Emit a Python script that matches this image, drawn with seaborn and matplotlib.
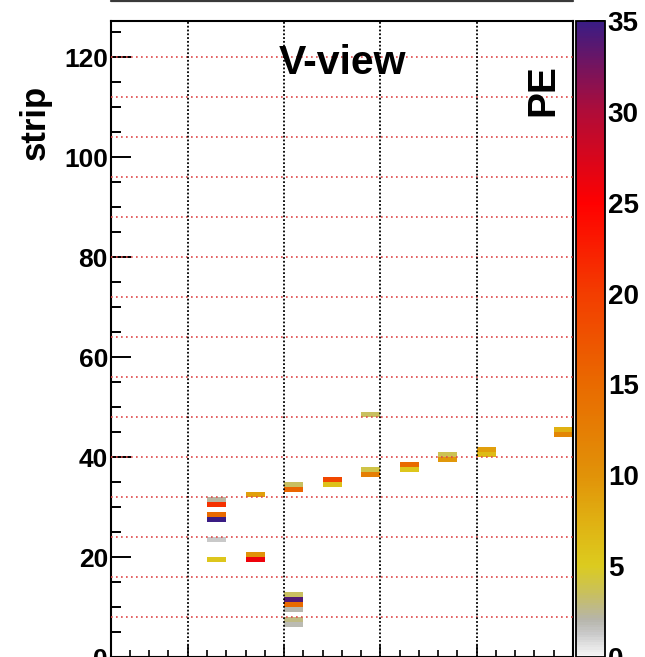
import numpy as np
import pandas as pd
import matplotlib
matplotlib.use("Agg")
import matplotlib.pyplot as plt
import seaborn as sns
from matplotlib.colors import LinearSegmentedColormap
from matplotlib.ticker import MultipleLocator, FixedLocator, NullFormatter
from matplotlib.lines import Line2D

# ---- hits in the V view: plane, strip, charge (PE) ----
hit_plane = [41, 41, 41, 41, 41, 41,
             43, 43, 43,
             45, 45, 45, 45, 45, 45, 45, 45,
             47, 47,
             49, 49, 49,
             51, 51,
             53, 53,
             55, 55,
             59, 59]
hit_strip = [31, 30, 28, 27, 23, 19,
             32, 20, 19,
             34, 33, 12, 11, 10, 9, 7, 6,
             35, 34,
             48, 37, 36,
             38, 37,
             40, 39,
             41, 40,
             45, 44]
hit_pe = [2.3, 21, 15, 35, 1.3, 5.5,
          9, 10, 26,
          3.5, 15.5, 3.5, 34, 15, 2, 2.8, 1.8,
          19, 6,
          3.5, 4, 12.5,
          15, 5.5,
          3.8, 9.5,
          9, 6.5,
          7.5, 11.5]

plane_first, plane_last = 36, 60
plane_major = [40, 45, 50, 55]
n_strips = 128
strip_top = 127.3
strip_major = [0, 20, 40, 60, 80, 100, 120]
module_lines = list(range(8, 121, 8))
pe_ticks = [0, 5, 10, 15, 20, 25, 30, 35]
pe_max = 35
title = "V-view"

# ---- style ----
sns.set_theme(style="white")
plt.rcParams["font.family"] = ["Liberation Sans", "DejaVu Sans"]
plt.rcParams["font.weight"] = "bold"
for key in ("text.color", "axes.labelcolor", "xtick.color", "ytick.color",
            "axes.edgecolor"):
    plt.rcParams[key] = "black"

palette_stops = [(0.0, "#f6f6f6"), (0.6, "#e2e2e2"), (1.2, "#cacaca"),
                 (2.0, "#b6b5ab"), (3.5, "#c9c05c"), (5.0, "#dccb1e"),
                 (7.5, "#e0b012"), (10.0, "#e19208"), (15.0, "#e96a00"),
                 (20.0, "#f33d00"), (25.0, "#ff0000"), (30.0, "#b00c38"),
                 (35.0, "#3a1c84")]
cmap = LinearSegmentedColormap.from_list(
    "pe", [(v / pe_max, c) for v, c in palette_stops], N=256)

# ---- strip x plane matrix ----
planes = np.arange(plane_first, plane_last)
strips = np.arange(n_strips)
hits = pd.DataFrame({"plane": hit_plane, "strip": hit_strip, "PE": hit_pe})
grid = (hits.pivot_table(index="strip", columns="plane", values="PE", aggfunc="sum")
            .reindex(index=strips, columns=planes))

W, H = 645, 657
fig = plt.figure(figsize=(W / 100, H / 100), dpi=100)
fx = lambda px: px / W
fy = lambda py: 1 - py / H

ax_l, ax_r, ax_t, ax_b = 110.7, 573.0, 20.7, 657.3
ax = fig.add_axes([fx(ax_l), fy(ax_b), fx(ax_r - ax_l), (ax_b - ax_t) / H])
cax = fig.add_axes([fx(575.5), fy(ax_b), fx(605 - 575.5), (ax_b - ax_t) / H])

sns.heatmap(grid, ax=ax, cbar_ax=cax, cmap=cmap, vmin=0, vmax=pe_max,
            xticklabels=False, yticklabels=False)

# heatmap uses column/row index space: plane p -> x = p - plane_first, strip s -> y = s
ax.set_xlim(0, plane_last - plane_first)
ax.set_ylim(0, strip_top)
ax.set_xlabel("")
ax.set_ylabel("")

ax.xaxis.set_major_locator(FixedLocator([p - plane_first for p in plane_major]))
ax.xaxis.set_minor_locator(MultipleLocator(1))
ax.xaxis.set_major_formatter(NullFormatter())
ax.yaxis.set_major_locator(FixedLocator(strip_major))
ax.yaxis.set_minor_locator(MultipleLocator(5))
ax.set_yticklabels([str(v) for v in strip_major])

ax.tick_params(axis="y", which="major", direction="in", length=14.4, width=1.4,
               left=True, right=False, labelsize=19, pad=2, colors="black")
ax.tick_params(axis="y", which="minor", direction="in", length=7.2, width=1.4,
               left=True, right=False, colors="black")
ax.tick_params(axis="x", which="major", direction="in", length=8.6, width=1.2,
               bottom=True, top=False, colors="black")
ax.tick_params(axis="x", which="minor", direction="in", length=5.0, width=1.2,
               bottom=True, top=False, colors="black")
for lab in ax.get_yticklabels():
    lab.set_fontweight("bold")

for sp in ax.spines.values():
    sp.set_visible(True)
    sp.set_color("black")
    sp.set_linewidth(1.5)

# grid: dotted black at major planes, dotted red at module boundaries
for p in plane_major:
    ax.axvline(p - plane_first, color="black", lw=1.3, ls=(0, (1.0, 1.1)), zorder=5)
for s in module_lines:
    ax.axhline(s, color="#e04848", lw=1.2, ls=(0, (1, 2.0)), zorder=4)

# colour scale
cbar = ax.collections[0].colorbar
cbar.set_ticks(pe_ticks)
cbar.set_ticklabels([str(v) for v in pe_ticks])
cbar.outline.set_visible(True)
cbar.outline.set_linewidth(1.3)
cbar.outline.set_edgecolor("black")
cax.tick_params(axis="y", which="major", direction="in", length=14, width=1.4,
                right=True, left=False, labelright=True, labelleft=False,
                labelsize=20, pad=2, colors="black")
cax.tick_params(axis="y", which="minor", length=0)
for lab in cax.get_yticklabels():
    lab.set_fontweight("bold")

# texts
fig.text(fx(342), fy(63), title, ha="center", va="center",
         fontsize=29.5, fontweight="bold", color="black")
fig.text(fx(35), fy(122), "strip", rotation=90, ha="center", va="center",
         fontsize=25, fontweight="bold", color="black")
fig.text(fx(543), fy(90), "PE", rotation=90, ha="center", va="center",
         fontsize=28, fontweight="bold", color="black")

# frame edge of the pad above
fig.add_artist(Line2D([fx(111), fx(573)], [fy(1.2), fy(1.2)],
                      transform=fig.transFigure, color="#3a3a3a", lw=1.6))

fig.savefig("out.png", dpi=100)
